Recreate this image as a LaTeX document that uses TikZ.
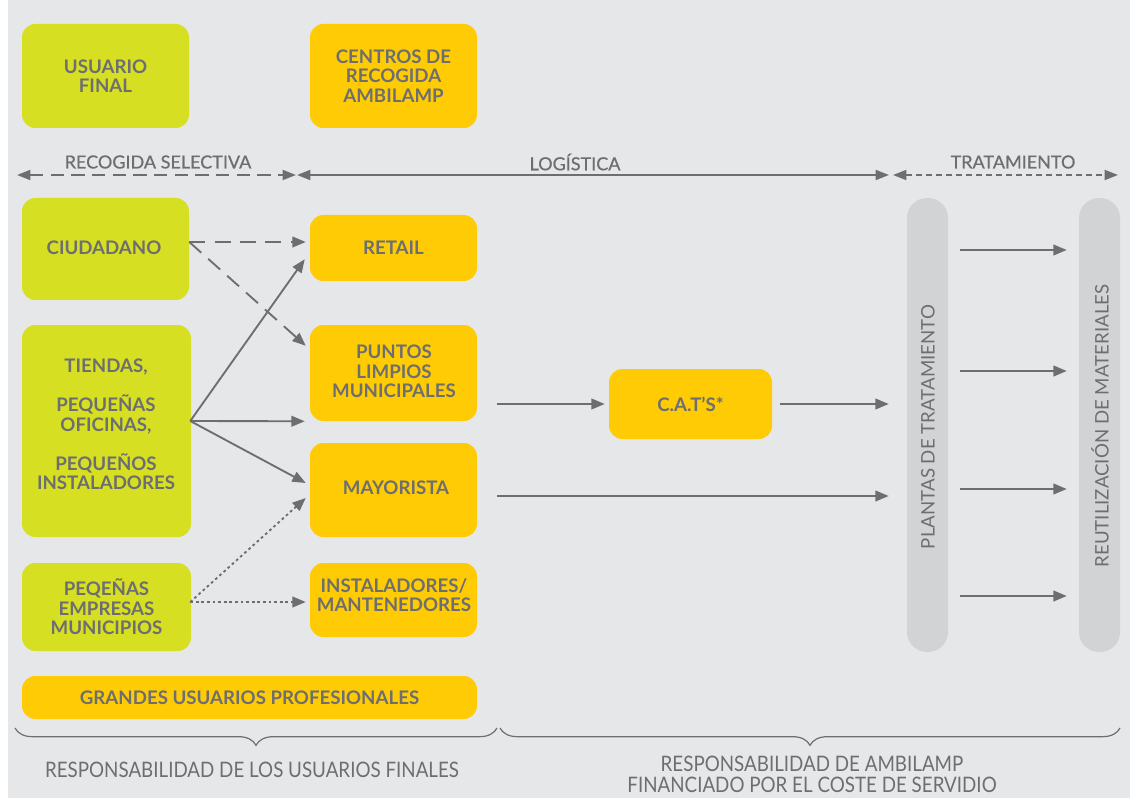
\documentclass[tikz,border=0pt]{standalone}
\usepackage{fontspec}
\setmainfont{Lato}
\newfontfamily\condfont[FakeStretch=0.88]{Lato}
\newfontfamily\medfont[FakeBold=0.6]{Lato}
\usetikzlibrary{arrows.meta,fit,decorations.pathreplacing,calc}
\definecolor{bg}{HTML}{E6E7E8}
\definecolor{lime}{HTML}{D7DF23}
\definecolor{amber}{HTML}{FFCB05}
\definecolor{ink}{HTML}{6D6E71}
\definecolor{barc}{HTML}{D1D3D4}
\begin{document}
\begin{tikzpicture}[x=0.75pt,y=-0.75pt,
  box/.style={rounded corners=10pt, inner sep=0pt},
  gbox/.style={box, fill=lime},
  ybox/.style={box, fill=amber},
  barbox/.style={rounded corners=15pt, fill=barc, inner sep=0pt},
  txt/.style={text=ink, align=center, inner sep=0pt, font=\bfseries\fontsize{14}{14.6}\selectfont},
  hdr/.style={text=ink, inner sep=0pt, font=\medfont\fontsize{13.5}{15}\selectfont},
  vtxt/.style={text=ink, inner sep=0pt, rotate=90, font=\fontsize{14}{16}\selectfont},
  btxt/.style={text=ink, inner sep=0pt, align=center, font=\condfont\fontsize{16}{15.8}\selectfont},
  arr/.style={draw=ink, line width=1.4pt, -{Triangle[length=10pt,width=8pt]}},
  harr/.style={draw=ink, line width=1.4pt, {Triangle[length=10pt,width=7.5pt]}-{Triangle[length=10pt,width=7.5pt]}},
  brc/.style={draw=ink, line width=0.9pt, decorate, decoration={brace, mirror, amplitude=13pt}}
]
\fill[white] (0,0) rectangle (1130,798);
\fill[bg] (8,0) rectangle (1130,798);
\useasboundingbox (0,0) rectangle (1130,798);

% top row
\node[gbox, fit={(22,24)(189,128)}] (uf) {};
\node[txt] (uft) at (uf) {USUARIO\\FINAL};
\node[ybox, fit={(310,24)(477,128)}] (cr) {};
\node[txt] (crt) at (cr) {CENTROS DE\\RECOGIDA\\AMBILAMP};

% header arrows
\coordinate (h0) at (17,175);
\coordinate (h1) at (296,175);
\coordinate (h2) at (297,175);
\coordinate (h3) at (889,175);
\coordinate (h4) at (893,175);
\coordinate (h5) at (1118,175);
\draw[harr, dash pattern=on 10pt off 5.5pt] (h0) -- (h1);
\draw[harr] (h2) -- (h3);
\draw[harr, dash pattern=on 4.5pt off 3pt] (h4) -- (h5);
\node[hdr] (hrs) at (158,162) {RECOGIDA SELECTIVA};
\node[hdr] (hlo) at (575,162) {LOGÍSTICA};
\node[hdr] (htr) at (1013,162) {TRATAMIENTO};

% left column
\node[gbox, fit={(22,198)(189,300)}] (ciu) {};
\node[txt] (ciut) at (104,248) {CIUDADANO};
\node[gbox, fit={(22,325)(191,537)}] (ti) {};
\node[txt] (tit) at (106,424.5) {TIENDAS,\\[14.6pt]PEQUEÑAS\\OFICINAS,\\[14.6pt]PEQUEÑOS\\INSTALADORES};
\node[gbox, fit={(22,563)(191,651)}] (pe) {};
\node[txt] (pet) at (pe) {PEQEÑAS\\EMPRESAS\\MUNICIPIOS};
\node[ybox, fit={(22,676)(477,719)}] (gu) {};
\node[txt] (gut) at (gu) {GRANDES USUARIOS PROFESIONALES};

% middle column
\node[ybox, fit={(310,215)(477,281)}] (ret) {};
\node[txt] (rett) at (ret) {RETAIL};
\node[ybox, fit={(310,325)(477,421)}] (pl) {};
\node[txt] (plt) at (394,371.5) {PUNTOS\\LIMPIOS\\MUNICIPALES};
\node[ybox, fit={(310,443)(477,537)}] (may) {};
\node[txt] (mayt) at (396,488) {MAYORISTA};
\node[ybox, fit={(310,563)(477,637)}] (ins) {};
\node[txt] (inst) at (394,595) {INSTALADORES/\\MANTENEDORES};
\node[ybox, fit={(609,369)(772,439)}] (cats) {};
\node[txt] (catst) at (cats) {C.A.T'S*};

% bars
\node[barbox, fit={(907,198)(948,652)}] (pla) {};
\node[barbox, fit={(1079,198)(1120,652)}] (reu) {};
\node[vtxt] (plat) at (928,427) {PLANTAS DE TRATAMIENTO};
\node[vtxt] (reut) at (1100,426) {REUTILIZACIÓN DE MATERIALES};

% connectors from CIUDADANO
\coordinate (cs) at ($(ciu.east)+(0,-7)$);
\draw[arr, dash pattern=on 12pt off 7pt] (cs) -- ($(ret.west)+(-4,-6)$);
\draw[arr, dash pattern=on 12pt off 7pt] (cs) -- ($(pl.north west)+(-4,21)$);

% from TIENDAS
\coordinate (ts) at ($(ti.east)+(-1,-10)$);
\draw[arr] (ts) -- ($(ret.south west)+(-5,-22)$);
\draw[arr] (ts) -- ($(pl.south west)+(-5,0)$);
\draw[arr] (ts) -- ($(may.west)+(-4,-7)$);

% from PEQEÑAS
\coordinate (ps) at ($(pe.east)+(-1,-5)$);
\draw[arr, dash pattern=on 2pt off 2.2pt] (ps) -- ($(may.west)+(-4,8)$);
\draw[arr, dash pattern=on 2pt off 2.2pt] (ps) -- ($(ins.west)+(-4,2)$);

% logistics
\draw[arr] ($(pl.east |- cats.west)+(20,0)$) -- ($(cats.west)+(-4,0)$);
\draw[arr] ($(cats.east)+(8,0)$) -- ($(pla.west |- cats.west)+(-18,0)$);
\coordinate (my) at ($(may.east)+(20,6)$);
\draw[arr] (my) -- ($(pla.west |- my)+(-18,0)$);

% plantas -> reutilizacion
\foreach \i/\yy in {1/250,2/371,3/489,4/596}{
  \coordinate (r\i) at (0,\yy);
  \draw[arr] ($(pla.east |- r\i)+(12,0)$) -- ($(reu.west |- r\i)+(-12,0)$);
}

% braces
\coordinate (b0) at (15,728);
\coordinate (b1) at (497,728);
\coordinate (b2) at (500,728);
\coordinate (b3) at (1120,728);
\draw[brc] (b0) -- (b1);
\draw[brc] (b2) -- (b3);
\node[btxt] (bl) at (252,770) {RESPONSABILIDAD DE LOS USUARIOS FINALES};
\node[btxt] (br) at (812,774.5) {RESPONSABILIDAD DE AMBILAMP\\FINANCIADO POR EL COSTE DE SERVIDIO};
\end{tikzpicture}
\end{document}
